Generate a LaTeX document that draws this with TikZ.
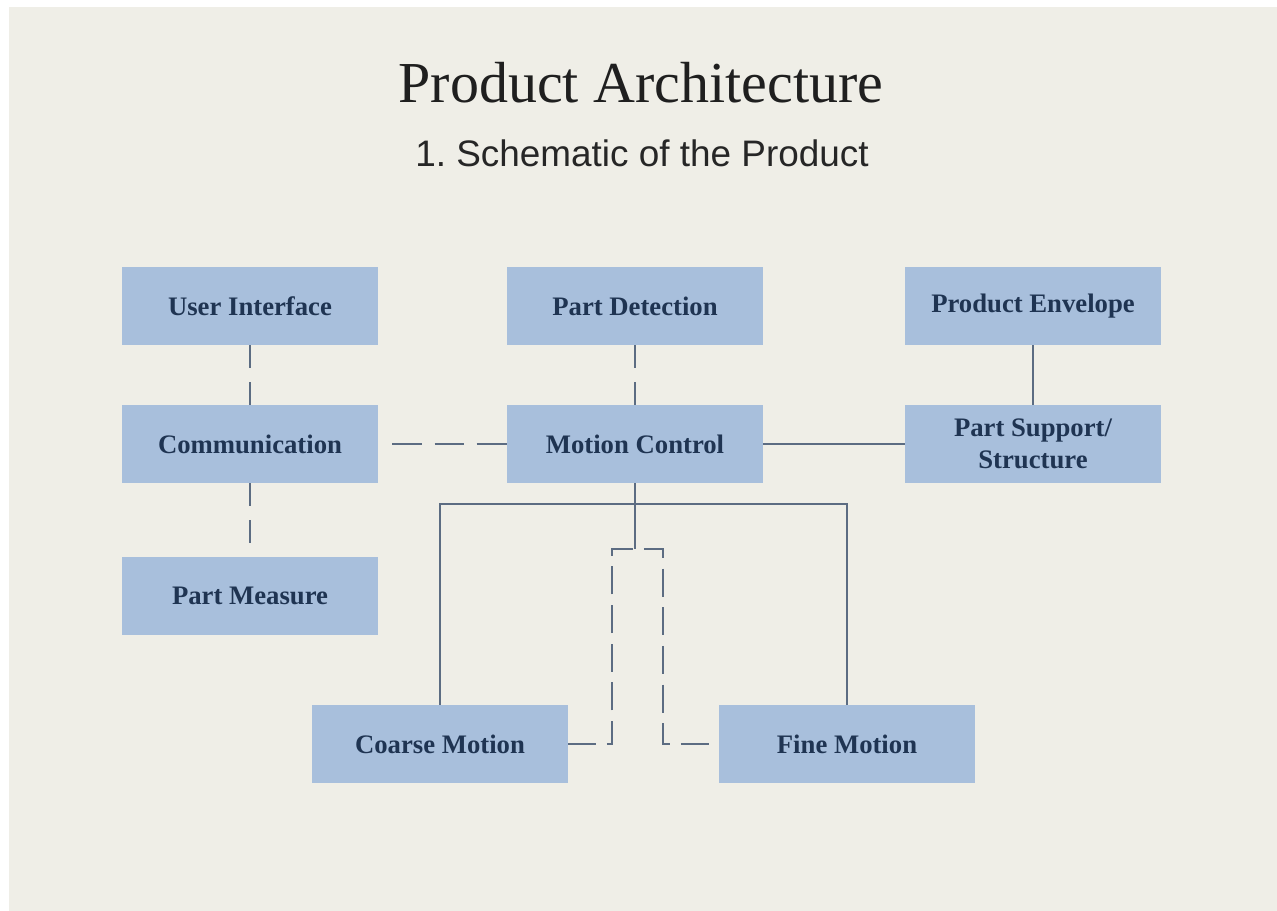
\documentclass[tikz,border=0pt]{standalone}
\usepackage{fontspec}
\setmainfont{Liberation Serif}
\newfontfamily\subfont{Liberation Sans}
\usetikzlibrary{positioning}
\definecolor{pagebg}{RGB}{239,238,231}
\definecolor{boxblue}{RGB}{168,191,220}
\definecolor{boxtext}{RGB}{31,52,82}
\definecolor{wire}{RGB}{92,108,130}

\begin{document}
\begin{tikzpicture}[x=0.02cm, y=-0.02cm,
  block/.style={fill=boxblue, align=center, text=boxtext, font=\fontsize{15.2}{18}\selectfont\bfseries, minimum width=5.12cm, minimum height=1.56cm, inner sep=2pt},
  link/.style={wire, line width=1.1pt},
  dlink/.style={link, dash pattern=on 13pt off 8pt}]
  \fill[white] (0,0) rectangle (1277,911);
  \fill[pagebg] (9,7) rectangle (1277,911);
  \node[anchor=base, text=black!88, font=\fontsize{33}{38}\selectfont] (title) at (641,103) {Product Architecture};
  \node[anchor=base, text=black!85, font=\subfont\fontsize{21}{25}\selectfont] (sub) at (642,167) {1.\ Schematic of the Product};
  % blocks
  \node[block] (ui) at (250,306) {User Interface};
  \node[block] (pd) at (635,306) {Part Detection};
  \node[block] (pe) at (1033,306) {Product Envelope};
  \node[block] (com) at (250,444) {Communication};
  \node[block] (mc) at (635,444) {Motion Control};
  \node[block] (ps) at (1033,444) {Part Support/\\Structure};
  \node[block] (pm) at (250,596) {Part Measure};
  \node[block] (cm) at (440,744) {Coarse Motion};
  \node[block] (fm) at (847,744) {Fine Motion};
  % connectors
  \foreach \a/\b in {ui/com, com/pm, pd/mc} \draw[dlink] (\a) -- (\b);
  \draw[dlink, dash pattern=on 17pt off 7pt, shorten <=8pt] (com) -- (mc);
  \foreach \a/\b in {pe/ps, mc/ps} \draw[link] (\a) -- (\b);
  \coordinate (bus) at (635,504);
  \coordinate (tap) at (635,549);
  \coordinate (jl) at (612,549);
  \coordinate (jr) at (663,549);
  \draw[link] (cm.north) |- (bus) -| (fm.north);
  \draw[link] (mc.south) -- (tap);
  \draw[dlink, dash pattern=on 16pt off 6pt] (cm.east) -| (jl) -- (jr) |- (fm.west);
\end{tikzpicture}
\end{document}
